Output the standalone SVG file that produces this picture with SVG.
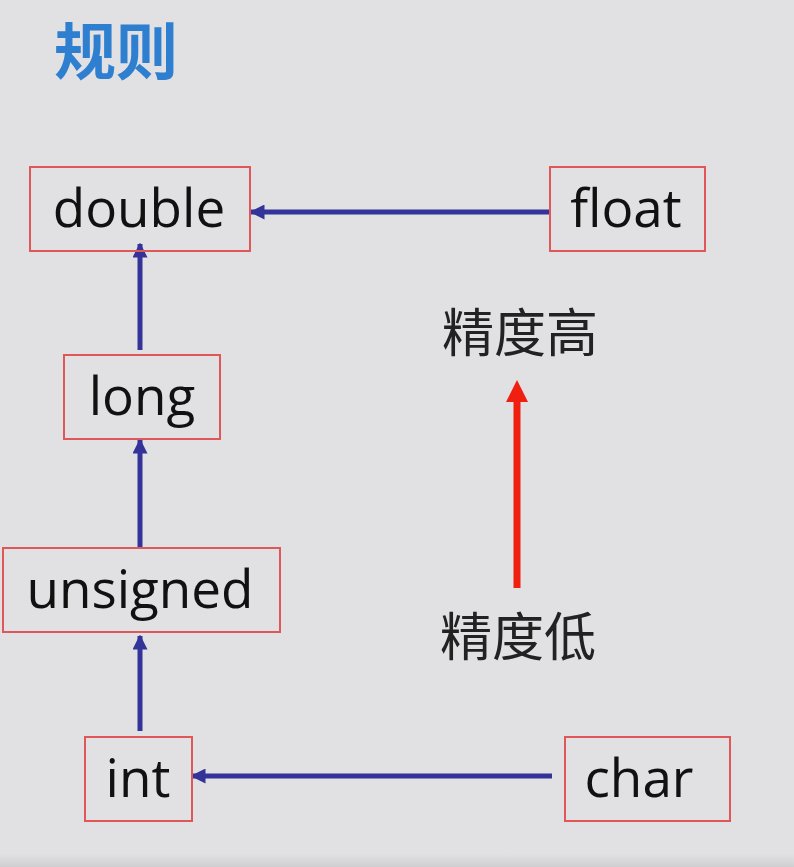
<svg xmlns="http://www.w3.org/2000/svg" width="794" height="867" viewBox="0 0 794 867">
<defs>
<style>
.box{fill:none;stroke:#e0575a;stroke-width:2}
.lbl{font-family:"Open Sans","Noto Sans",sans-serif;font-size:53px;fill:#111;text-anchor:middle}
.cjk{font-family:"Noto Sans CJK SC",sans-serif;font-size:52px;fill:#222;text-anchor:middle}
.conn{stroke:#33339a;stroke-width:5;fill:none;marker-end:url(#ah)}
</style>
<marker id="ah" viewBox="0 0 10 10" refX="9" refY="5" markerWidth="3" markerHeight="3" orient="auto" markerUnits="strokeWidth">
<path d="M0,0 L10,5 L0,10 Z" fill="#33339a"/>
</marker>
<linearGradient id="bot" x1="0" y1="0" x2="0" y2="1">
<stop offset="0" stop-color="#e0e0e2"/><stop offset="1" stop-color="#cfcfd1"/>
</linearGradient>
</defs>
<rect width="794" height="867" fill="#e1e1e3"/>
<rect y="855" width="794" height="12" fill="url(#bot)"/>
<text x="116" y="75" font-family="Noto Sans CJK SC,sans-serif" font-size="62" font-weight="bold" fill="#2f7fd0" text-anchor="middle">规则</text>
<g id="connectors">
<line class="conn" x1="550" y1="212" x2="251" y2="212"/>
<line class="conn" x1="140" y1="350" x2="140" y2="244"/>
<line class="conn" x1="140" y1="548" x2="140" y2="440"/>
<line class="conn" x1="140" y1="731" x2="140" y2="636"/>
<line class="conn" x1="552" y1="776" x2="192" y2="776"/>
<line x1="517" y1="588" x2="517" y2="398" stroke="#f02010" stroke-width="7"/>
<path d="M506,402 L517,380 L528,402 Z" fill="#f02010"/>
</g>
<g id="double"><rect class="box" x="30" y="167" width="220" height="84"/><text class="lbl" x="139" y="227">double</text></g>
<g id="float"><rect class="box" x="550" y="167" width="155" height="84"/><text class="lbl" x="626" y="227">float</text></g>
<g id="long"><rect class="box" x="64" y="355" width="156" height="84"/><text class="lbl" x="142" y="415">long</text></g>
<g id="unsigned"><rect class="box" x="3" y="548" width="277" height="84"/><text class="lbl" x="140" y="608">unsigned</text></g>
<g id="int"><rect class="box" x="85" y="737" width="107" height="84"/><text class="lbl" x="138" y="797">int</text></g>
<g id="char"><rect class="box" x="565" y="737" width="165" height="84"/><text class="lbl" x="639" y="797">char</text></g>
<g id="high"><text class="cjk" x="520" y="352">精度高</text></g>
<g id="low"><text class="cjk" x="518" y="656">精度低</text></g>
</svg>
